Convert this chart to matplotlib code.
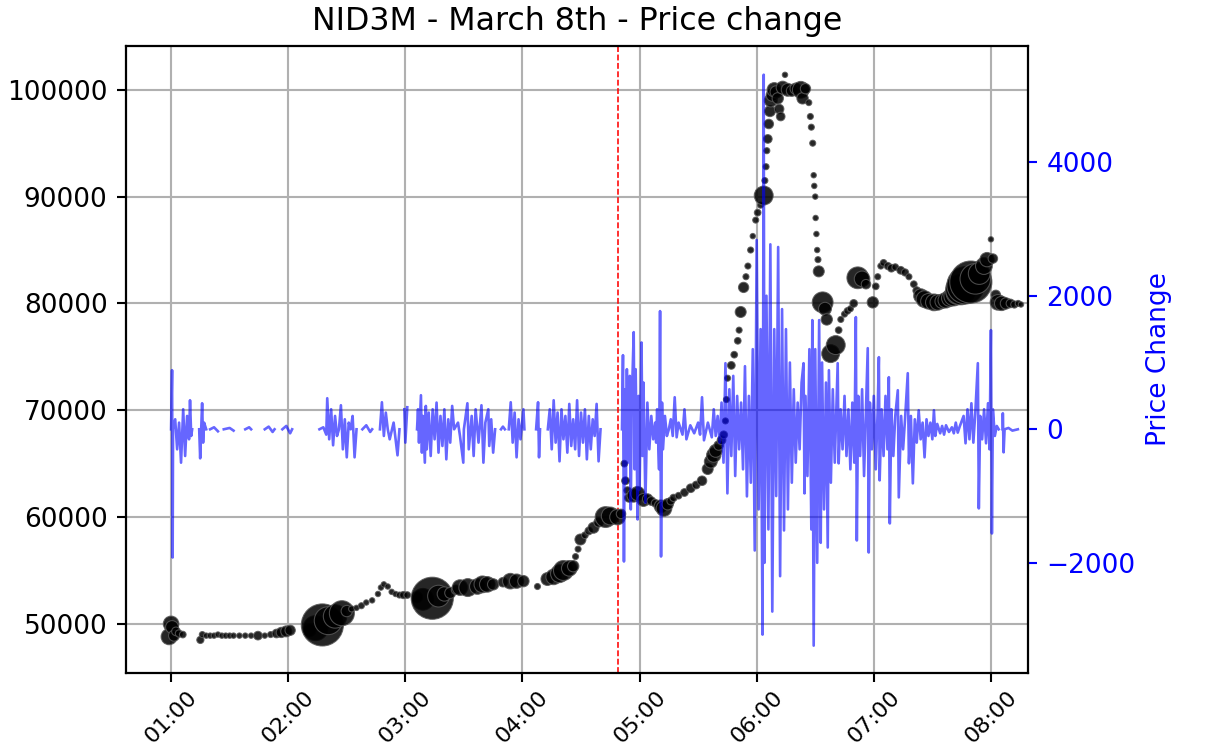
import numpy as np
import pandas as pd
import matplotlib
matplotlib.use("Agg")
import matplotlib.pyplot as plt
import matplotlib.dates as mdates

nan = float("nan")

# trades: minutes after midnight, price, volume (marker size)
price_min = [59.0, 60.0, 60.5, 61.5, 62.5, 64.0, 66.0,
             75.0, 76.0, 78.0, 80, 82, 84, 86, 88, 90, 92, 95, 98, 101, 104.5, 108, 111, 114, 116.5, 119, 121,
             131, 134, 137.5, 140.5, 144, 147.5, 150, 152.5, 155, 157.5, 160, 163,
             166, 167.5, 169, 171, 173, 175, 177, 179, 181,
             186, 189, 193.8, 197, 200, 203, 206, 208, 212, 216.9, 219.5, 222, 225, 230, 233.8, 237, 240.5,
             247.7, 252.8, 256, 259, 261, 264, 266, 267.2, 268.5, 269.7, 272, 274, 276.4, 279, 282.6, 285, 288.7,
             290.5, 292.2, 292.8, 293.8, 294.5, 296.9, 299, 302, 304.1, 306, 308, 310.8, 312.5, 314.4, 316, 317.4,
             320, 323, 326.2, 329, 332, 334.9, 336.5, 338, 339, 340.5, 342, 343.1, 344, 344.5, 345.1, 347, 348.5,
             350.3, 351, 351.8, 353.3, 354.5, 355.5, 356.9, 358, 359.5, 360.5, 362, 363.6, 364.2, 364.8, 365.2,
             365.7, 366.2, 366.8, 367.2, 368, 369, 370, 370.8, 371.5, 372.3, 373.3, 374.5, 375.9, 378, 380, 382.6,
             383.5, 385, 386.7, 387.5, 388, 388.7, 389.2, 389.5, 390, 390.2, 390.6, 391, 391.4, 391.8, 393.8, 395,
             395.9, 397.9, 400.5, 402, 403.1, 405, 406.5, 408, 409.7, 411.8, 414, 416, 419.5, 421, 422, 423.6, 425,
             427.2, 429, 431, 433.8, 436, 438, 440.5, 442, 444.1, 446, 448, 450.8, 452.8, 455, 456.9, 459, 461, 463,
             464.6, 467, 469.7, 472, 474, 476.4, 478, 480, 481, 482.5, 483.6, 485.5, 487.7, 490, 492, 494, 495.4]
price_val = [48800, 50000, 49700, 48900, 49300, 49100, 49000,
             48500, 49000, 48900, 48900, 48900, 49000, 48900, 48900, 48900, 48900, 48900, 48900, 48900, 48900, 48900, 49000, 49100, 49200, 49300, 49400,
             49400, 49600, 49900, 50300, 50700, 51000, 51200, 51400, 51500, 51700, 52000, 52200,
             52800, 53400, 53700, 53500, 53000, 52800, 52700, 52700, 52700,
             52500, 52300, 52400, 52600, 52800, 52900, 53200, 53400, 53400, 53500, 53700, 53700, 53700, 53900, 54000, 54000, 54000,
             53500, 54200, 54400, 54700, 55000, 55200, 55400, 56300, 57000, 57900, 58300, 58700, 59000, 59500, 60000, 60100, 60000,
             60300, 65000, 63400, 62500, 61800, 62000, 62200, 61600, 61700, 61500, 61300, 61000, 60800, 61200, 61500, 61800,
             62000, 62300, 62700, 63000, 63400, 64500, 65200, 65800, 66200, 66700, 67200, 67700, 69000, 71000, 73000, 74200, 75200,
             76500, 77500, 79200, 81500, 82500, 83500, 85000, 86300, 87800, 88500, 89200, 90100, 91500, 92800, 94300,
             95400, 96800, 98000, 99000, 99500, 100000, 99800, 99200, 98200, 97500, 100200, 101400, 100000, 99900, 100100, 100000,
             99200, 100100, 98800, 97500, 96500, 95000, 92000, 91000, 90000, 88000, 86500, 85000, 84100, 83000, 80100, 79500,
             78500, 75300, 76100, 77500, 78500, 79000, 79300, 79500, 80000, 82400, 82300, 81800, 80100, 81600, 82500, 83500, 83800,
             83500, 83300, 83400, 83100, 82900, 82500, 81800, 81200, 80700, 80400, 80200, 80100, 80100, 80200, 80300, 80500, 80700, 81000,
             81300, 81700, 82000, 82300, 82800, 83500, 84100, 86000, 84200, 80800, 80100, 80000, 80000, 80000, 79900, 80000, 79900]
price_vol = [32, 30, 20, 14, 8, 5, 4,
             5, 3, 2, 2, 2, 2, 2, 2, 2, 2, 2, 2, 2, 8, 2, 3, 8, 12, 14, 12,
             20, 80, 230, 100, 70, 80, 15, 3, 2, 3, 2, 2,
             2, 2, 2, 2, 2, 2, 3, 5, 4,
             15, 60, 230, 60, 25, 14, 10, 30, 40, 30, 35, 30, 15, 10, 30, 25, 15,
             3, 20, 30, 40, 50, 30, 15, 3, 3, 14, 4, 6, 14, 10, 55, 40, 30,
             10, 4, 6, 5, 8, 20, 25, 20, 12, 8, 6, 20, 30, 15, 6, 5,
             4, 6, 8, 6, 10, 14, 20, 25, 20, 10, 8, 6, 3, 3, 3, 6, 4,
             4, 3, 14, 12, 3, 3, 3, 2, 3, 4, 3, 45, 3, 3, 3,
             8, 10, 14, 20, 18, 25, 18, 15, 10, 8, 20, 2, 20, 14, 15, 35,
             15, 12, 3, 3, 3, 3, 2, 2, 2, 2, 2, 2, 3, 14, 55, 20,
             15, 40, 45, 4, 3, 3, 4, 3, 6, 60, 30, 10, 15, 4, 3, 3, 4,
             5, 6, 4, 6, 5, 3, 4, 6, 25, 35, 30, 35, 30, 25, 30, 35, 50, 70,
             120, 180, 230, 120, 60, 35, 25, 2, 10, 10, 30, 25, 15, 8, 5, 3, 2]

# price change between trades (nan = no trading, gap in the line)
change_min = [60.0, 60.5, 60.8, 61.0, 62.1, 63.1, 64.1, 65.1, 66.2, 67.2, 68.2, 69.2, 69.7, 70.3, 70.8, 72,
              74.4, 74.9, 75.9, 76.4, 76.9, 78, 79,
              80, 82, 84, 85, 87, 90, 92, 93, 98, 100, 101, 102, 108, 110, 112, 113, 114, 117, 119, 121, 122, 123,
              136, 138, 139.5, 140, 141, 142, 143, 144, 145, 146, 147, 148, 149, 150, 151, 152, 153, 154, 155, 156,
              158, 160, 162, 163, 164,
              167, 168, 169, 170, 171, 172, 174, 176, 177, 178, 179.5, 180, 181, 182,
              186, 186.5, 187, 188, 188.5, 189, 190, 190.5, 191, 192, 193, 194, 195, 196, 197, 198, 199, 200, 201,
              202, 203, 204, 205, 207, 208, 209.7, 210, 211.8, 212.5, 214, 215, 216, 217.5, 219, 220, 221, 222.5,
              223, 224, 225, 226, 227,
              229, 230, 231, 232,
              233, 234, 235, 236, 237, 238, 239, 240.5, 241, 242,
              247, 248, 248.5, 249, 250,
              253, 254, 255, 256, 257, 258, 259, 260, 261, 262, 263, 264, 265, 266, 267, 268, 269, 270, 271, 272,
              273, 274, 275, 276, 277, 278, 279, 280, 281,
              291, 291.5, 292, 292.5, 293, 293.5, 294, 295, 295.5, 296, 297, 297.5, 298, 299, 299.5, 300, 301, 301.5,
              302, 303, 304, 305, 306, 307, 308, 308.5, 309, 310, 310.5, 311, 311.5, 312, 313, 314, 315, 316, 317,
              318, 319, 320, 322, 323, 324, 326, 328, 330, 331, 332, 333, 335, 337, 338, 339, 340, 341, 342, 343,
              344, 345, 346, 347, 348, 349, 350, 351, 352, 353, 354, 355, 356, 357, 358, 359, 360, 361, 362, 363,
              363.6, 364, 365, 366, 367, 368, 369, 370, 371, 372, 373, 374, 375, 376, 377, 378, 379, 380, 381, 382,
              383, 384, 384.5, 385, 386, 387, 388, 388.5, 389.2, 390, 391, 392, 392.8, 393.5, 394.5, 395.5, 396.4,
              397, 398, 399, 400, 401.5, 402, 403, 404, 405, 406, 407, 408, 409, 410, 410.8, 411.3, 412, 413, 414,
              415, 416, 416.9, 417.4, 418, 419, 420, 421, 422, 422.6, 423, 424, 425, 426, 427, 427.7, 428.2, 429,
              430, 431, 432.3, 432.8, 434, 435, 436, 437.4, 438, 439, 440, 441, 442, 443, 444, 445, 446, 447, 448,
              449, 450, 450.8, 451.5, 452.5, 454, 455, 456, 457, 458.5, 460, 461, 462, 463, 464, 466, 467, 468, 469,
              470, 471, 472, 473.3, 473.8, 474.5, 475.5, 476.5, 477.5, 478.5, 479.3, 480, 480.5, 481, 482, 483, 484,
              485, 486, 486.1, 486.5, 487, 489, 491, 493.8]
change_val = [0, 885, -1920, 0, 150, -300, 100, -500, 300, -400, 200, -150, 435, -100, 0, nan,
              0, -435, 390, -200, 100, 0, nan,
              0, 30, -30, nan, 0, 20, -20, nan, 0, 30, 0, nan, 0, 40, -40, 0, nan, 0, 50, -60, 0, nan,
              0, 30, -80, 465, -150, 300, -240, 200, -100, 0, 360, -300, 150, -420, 100, 0, 200, -420, 0, nan,
              0, 60, -40, 0, nan,
              0, 405, -100, 250, 0, -150, 100, -390, 0, nan, 300, -200, 330, nan,
              0, 300, -200, 510, -350, 200, -500, 350, -300, 250, -400, 300, -150, 400, -350, 200, -250, 300, -450,
              150, -200, 350, 0, 100, -100, -500, 0, 390, -300, 200, -400, 300, -200, 360, -500, 100, 300,
              -250, 150, -350, 0, nan,
              0, 40, 0, nan,
              0, 405, -200, 250, -420, 150, -150, 300, 0, nan,
              0, 405, -420, 0, nan,
              0, 300, -300, 435, -200, 250, -480, 300, -150, 200, -350, 380, -250, 150, -300, 435, -400, 250, -200, 300,
              -450, 200, -300, 150, -100, 380, -480, 0, nan,
              0, 1110, -1980, 600, -800, 900, -500, 800, -1200, 400, 1455, -600, 900, -1350, 500, -900, 1300, -400,
              700, -1100, 400, -300, 200, -150, 100, -200, 300, -600, 1770, -1905, 400, -300, 200, -100, 0, 150, -100,
              480, -120, 100, -80, 300, -150, 60, -60, 100, -80, 480, -165, 100, -120, 300, -100, 200, -200, 400, -500,
              990, -960, 600, -400, 800, -700, 500, -300, 400, -600, 945, -1005, 500, -800, 1200, -1815, 2835, -1200, 1500, -3075,
              5310, -2000, 2000, -1500, 2770, -2730, 1500, -1000, 2730, -2200, 1800, -1515, 1500, -1200, 1000, -800, 600, -500, 400, -300,
              700, 990, -960, 500, -700, 1200, -1500, 1635, -3240, 1200, -2000, 1635, -1700, 1000, -1200, 700, -1770,
              885, -800, 600, -500, 990, -510, 300, -300, 500, -400, 300, -600, 400, -500, 1680, -1665, 500, -400, 600,
              -700, 300, 1215, -1845, 400, -300, 500, -600, 300, 1080, -765, 300, -400, 500, -300, 780, -1410, 300,
              -400, 200, 585, -1020, 200, -300, 150, 840, -510, 200, -810, 150, -200, 285, -150, 100, -420, 150, -100,
              100, -150, 285, -100, 80, -60, 50, -80, 60, -40, 30, -60, 100, -50, 40, 200, -210, 300, -150,
              390, -200, 250, 990, -1185, 200, -150, 300, -210, 390, -300, 1485, -1560, 300, -100, 50, 0,
              nan, 0, 240, -345, 0, 20, -20, 0]

day = pd.Timestamp("2022-03-08")
price_t = day + pd.to_timedelta(np.array(price_min), unit="m")
change_t = day + pd.to_timedelta(np.array(change_min), unit="m")

fig = plt.figure(figsize=(1215 / 190, 754 / 190), dpi=190)
ax = fig.add_axes([0.1037, 0.1074, 0.7424, 0.8316])

sizes = np.array(price_vol) * 1.1 + 2
ax.scatter(price_t, price_val, s=sizes, c="black", alpha=0.85,
           edgecolors="0.35", linewidths=0.4, zorder=3)
ax.axvline(day + pd.Timedelta(minutes=288.7), color="red", ls="--", lw=0.6)
ax.grid(True)
ax.set_ylim(45400, 104100)
ax.set_xlim(day + pd.Timedelta(minutes=36.9), day + pd.Timedelta(minutes=499))
ax.xaxis.set_major_locator(mdates.HourLocator())
ax.xaxis.set_major_formatter(mdates.DateFormatter("%H:%M"))
ax.tick_params(axis="x", pad=2)
plt.setp(ax.get_xticklabels(), rotation=45, fontsize=8.5)
ax.set_title("NID3M - March 8th - Price change")

ax2 = ax.twinx()
ax2.plot(change_t, change_val, color="blue", lw=1.0, alpha=0.6)
ax2.set_ylim(-3650, 5740)
ax2.set_yticks([-2000, 0, 2000, 4000])
ax2.set_ylabel("Price Change", color="blue")
ax2.tick_params(axis="y", colors="blue")

fig.savefig("out.png", dpi=190)
